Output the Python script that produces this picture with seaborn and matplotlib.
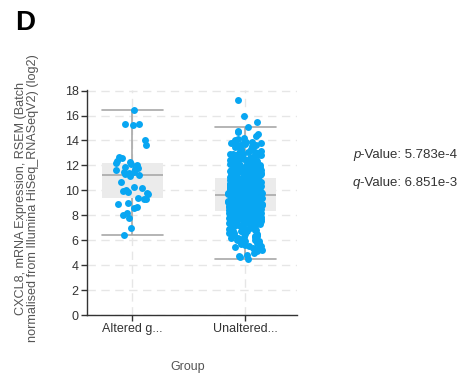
import numpy as np
import pandas as pd
import seaborn as sns
import matplotlib.pyplot as plt

# ---------------- data ----------------
categories = ["Altered g...", "Unaltered..."]

altered = [16.42, 15.33, 15.30, 15.26, 14.07, 13.67, 12.65, 12.60, 12.35, 12.28,
           12.22, 12.15, 12.00, 11.90, 11.80, 11.70, 11.60, 11.50, 11.45, 11.38,
           11.30, 11.25, 11.12, 10.64, 10.25, 10.15, 10.05, 9.95, 9.90, 9.80,
           9.70, 9.38, 9.34, 9.30, 9.00, 8.90, 8.70, 8.60, 8.15, 8.02, 7.82,
           6.97, 6.38]

unaltered = [
    # upper tail
    17.23, 15.94, 15.49, 15.08, 14.74, 14.66, 14.20, 14.05,
    13.95, 13.88, 13.80, 13.71, 13.62, 13.55, 13.48, 13.40, 13.35, 13.31, 13.22, 13.15, 13.06,
    12.97, 12.91, 12.88, 12.86, 12.80, 12.74, 12.69, 12.63, 12.58, 12.52, 12.47, 12.44, 12.41,
    12.36, 12.31, 12.26, 12.20, 12.15, 12.11, 12.06, 12.02,
    11.97, 11.93, 11.91, 11.89, 11.84, 11.80, 11.76, 11.72, 11.68, 11.64, 11.60, 11.58, 11.56,
    11.52, 11.48, 11.44, 11.41, 11.37, 11.35, 11.33, 11.30, 11.26, 11.23, 11.21, 11.19, 11.16,
    11.13, 11.10, 11.07, 11.05, 11.04, 11.01, 10.99,
    11.02, 11.09, 11.14, 11.18, 11.25, 11.29, 11.34, 11.39, 11.43, 11.47, 11.51, 11.55, 11.62,
    11.66, 11.70, 11.74, 11.78, 11.82, 11.86, 11.95, 12.04, 12.09, 12.13, 12.18, 12.23, 12.29,
    12.34, 12.39, 12.50, 12.55, 12.61, 12.66, 12.72, 12.78, 12.83, 12.94, 13.02, 13.10, 13.19,
    13.27, 13.44, 13.58, 13.67, 13.76, 13.84, 13.91, 14.12, 14.35, 14.50, 11.06,
    # median .. upper quartile
    10.96, 10.94, 10.90, 10.88, 10.87, 10.84, 10.80, 10.78, 10.77, 10.73, 10.70, 10.69, 10.66,
    10.62, 10.61, 10.58, 10.56, 10.52, 10.50, 10.49, 10.46, 10.42, 10.41, 10.38, 10.36, 10.33,
    10.30, 10.29, 10.27, 10.24, 10.21, 10.20, 10.17, 10.14, 10.12, 10.11, 10.08, 10.05, 10.04,
    10.01, 9.99, 9.98, 9.95, 9.93, 9.90, 9.89, 9.87, 9.84, 9.83, 9.81, 9.79, 9.76, 9.75, 9.72,
    9.71, 9.69, 9.67, 9.66, 10.92, 10.83, 10.71, 10.64, 10.54, 10.45, 10.34, 10.26, 10.16,
    10.07, 9.97, 9.86, 9.78, 9.70, 10.59, 10.39, 10.02,
    9.66, 9.68, 9.73, 9.74, 9.77, 9.80, 9.82, 9.85, 9.88, 9.91, 9.92, 9.94, 9.96, 10.00, 10.03,
    10.06, 10.09, 10.10, 10.13, 10.15, 10.18, 10.19, 10.22, 10.23, 10.25, 10.28, 10.31, 10.32,
    10.35, 10.37, 10.40, 10.43, 10.44, 10.47, 10.48, 10.51, 10.53, 10.55, 10.57, 10.60, 10.63,
    10.65, 10.68, 10.72, 10.74, 10.79, 10.82, 10.86, 10.91, 10.95,
    # lower quartile .. median
    9.64, 9.62, 9.60, 9.59, 9.56, 9.54, 9.53, 9.50, 9.47, 9.46, 9.44, 9.41, 9.39, 9.37, 9.35,
    9.32, 9.30, 9.29, 9.26, 9.24, 9.21, 9.20, 9.18, 9.15, 9.13, 9.11, 9.09, 9.06, 9.04, 9.03,
    9.00, 8.98, 8.96, 8.93, 8.91, 8.90, 8.87, 8.85, 8.82, 8.80, 8.79, 8.76, 8.74, 8.71, 8.69,
    8.67, 8.65, 8.62, 8.60, 8.58, 8.55, 8.53, 8.51, 8.49, 8.47, 8.44, 8.42, 8.40, 8.38, 8.37,
    9.57, 9.43, 9.33, 9.22, 9.10, 8.99, 8.88, 8.77, 8.66, 8.56, 8.45, 9.51, 9.27, 8.94, 8.63,
    8.36, 8.39, 8.41, 8.43, 8.46, 8.48, 8.50, 8.52, 8.54, 8.57, 8.59, 8.61, 8.64, 8.68, 8.70,
    8.72, 8.75, 8.78, 8.81, 8.83, 8.86, 8.89, 8.92, 8.95, 8.97, 9.01, 9.02, 9.05, 9.07, 9.08,
    9.12, 9.14, 9.16, 9.17, 9.19, 9.23, 9.25, 9.28, 9.31, 9.34, 9.36, 9.38, 9.40, 9.42, 9.45,
    9.48, 9.49, 9.52, 9.58, 9.61,
    # lower tail
    8.34, 8.31, 8.29, 8.26, 8.22, 8.20, 8.17, 8.13, 8.11, 8.08, 8.04, 8.01, 7.98, 7.95, 7.91,
    7.88, 7.84, 7.81, 7.78, 7.74, 7.70, 7.67, 7.63, 7.59, 7.55, 7.51, 7.47, 7.42, 7.38, 7.33,
    7.29, 7.24, 7.19, 7.14, 7.09, 7.03, 6.98, 6.92, 6.86, 6.80, 6.74, 6.67, 6.60, 6.53, 6.45,
    6.37, 6.28, 6.19, 6.10, 6.00, 5.90, 5.79, 5.68, 5.55, 5.42, 5.27, 5.10, 4.82, 4.74, 4.63,
    4.47, 8.24, 8.15, 8.06, 7.93, 7.80, 7.65, 7.49, 7.31, 7.12, 6.89, 6.63, 6.33, 5.97, 5.60,
    8.35, 8.32, 8.28, 8.25, 8.21, 8.18, 8.14, 8.10, 8.07, 8.03, 8.00, 7.97, 7.94, 7.89, 7.86,
    7.83, 7.79, 7.76, 7.72, 7.68, 7.64, 7.61, 7.57, 7.53, 7.45, 7.40, 7.35, 7.27, 7.22, 7.17,
    7.07, 7.01, 6.95, 6.84, 6.77, 6.70, 6.57, 6.49, 6.41, 6.24, 6.15, 6.05, 5.85, 5.74, 5.50,
    5.35, 5.18, 5.00, 7.96, 7.58,
]

y_ticks = [0, 2, 4, 6, 8, 10, 12, 14, 16, 18]
p_value = "5.783e-4"
q_value = "6.851e-3"
y_label = "CXCL8, mRNA Expression, RSEM (Batch\nnormalised from Illumina HiSeq_RNASeqV2) (log2)"
x_label = "Group"
panel_letter = "D"

# ---------------- styling ----------------
sns.set_theme(style="ticks")
plt.rcParams['font.family'] = ['Liberation Sans', 'DejaVu Sans']

df = pd.DataFrame({
    "Group": [categories[0]] * len(altered) + [categories[1]] * len(unaltered),
    "value": altered + unaltered,
})

fig = plt.figure(figsize=(4.6, 3.73), dpi=100)
ax = fig.add_axes([87 / 460, 1 - 315 / 373, 210 / 460, 225 / 373])
ax.set_axisbelow(True)

line_grey = '#a8a8a8'
sns.boxplot(data=df, x="Group", y="value", order=categories, width=0.54,
            showfliers=False, whis=1.6, ax=ax,
            boxprops=dict(facecolor='#ebebeb', edgecolor='none', linewidth=0),
            whiskerprops=dict(color=line_grey, linewidth=1.2),
            capprops=dict(color=line_grey, linewidth=1.2),
            medianprops=dict(color=line_grey, linewidth=1.2),
            capwidths=0.54)

np.random.seed(3)
sns.stripplot(data=df, x="Group", y="value", order=categories, color='#08A6F2',
              size=5.0, jitter=0.15, linewidth=0, ax=ax, zorder=3)

ax.grid(True, axis='both', color='#e6e6e6', linestyle=(0, (6, 4)), linewidth=1)
ax.set_xlim(-0.40, 1.46)
ax.set_ylim(0, 18.05)
ax.set_yticks(y_ticks)
ax.set_yticklabels([str(t) for t in y_ticks])

for s in ['top', 'right']:
    ax.spines[s].set_visible(False)
for s in ['left', 'bottom']:
    ax.spines[s].set_color('#333333')
    ax.spines[s].set_linewidth(1)
ax.tick_params(direction='out', length=4, width=1, color='#333333',
               labelsize=9, labelcolor='#333333', pad=2)

ax.set_xlabel(x_label, fontsize=9, color='#555555')
ax.xaxis.set_label_coords((188 - 87) / 210, (315 - 367) / 225)
ax.xaxis.label.set_va('center')

ax.set_ylabel(y_label, fontsize=9.1, color='#555555', linespacing=1.0)
ax.yaxis.set_label_coords((27 - 87) / 210, (315 - 198) / 225)
ax.yaxis.label.set_va('center')

fig.text(15 / 460, 1 - 23 / 373, panel_letter, fontsize=20, fontweight='bold',
         color='black', ha='left', va='center')

t1 = fig.text(353 / 460, 1 - 155 / 373, "p", fontsize=9.5, style='italic',
              color='#333333', ha='left', va='center')
ax.annotate("-Value: " + p_value, xy=(1, 0.5), xycoords=t1, fontsize=9.5,
            color='#333333', ha='left', va='center', annotation_clip=False)
t2 = fig.text(353 / 460, 1 - 183 / 373, "q", fontsize=9.5, style='italic',
              color='#333333', ha='left', va='center')
ax.annotate("-Value: " + q_value, xy=(1, 0.5), xycoords=t2, fontsize=9.5,
            color='#333333', ha='left', va='center', annotation_clip=False)

fig.savefig("out.png", dpi=100)
